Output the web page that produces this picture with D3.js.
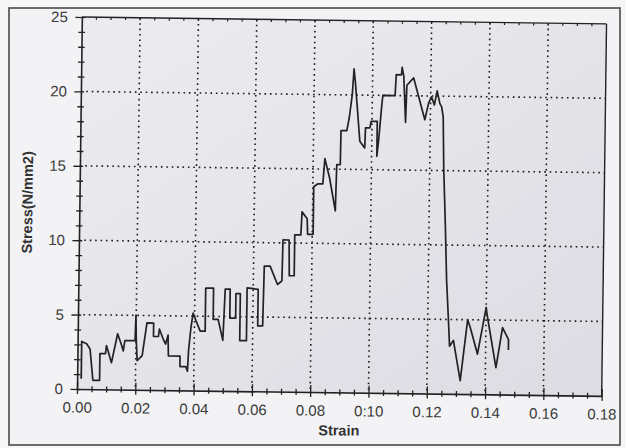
<!DOCTYPE html>
<html>
<head>
<meta charset="utf-8">
<script src="https://cdn.jsdelivr.net/npm/d3@7/dist/d3.min.js"></script>
<style>
  html, body { margin: 0; padding: 0; background: #f6f6f7; }
  svg { display: block; }
  text { font-family: "Liberation Sans", Arial, sans-serif; }
</style>
</head>
<body>
<svg id="chart" width="626" height="448"></svg>
<script>
// Stress–strain record of the tensile test
const strain = [
  0.0014, 0.0014, 0.0031, 0.0043, 0.0054, 0.0077, 0.0077, 0.0096, 0.0099, 0.0117,
  0.0137, 0.0149, 0.0157, 0.0162, 0.0197, 0.0199, 0.0201, 0.0205, 0.0222, 0.0237,
  0.0260, 0.0260, 0.0277, 0.0280, 0.0292, 0.0302, 0.0310, 0.0312, 0.0352, 0.0352,
  0.0372, 0.0378, 0.0381, 0.0388, 0.0395, 0.0405, 0.0420, 0.0437, 0.0437, 0.0464,
  0.0464, 0.0481, 0.0498, 0.0504, 0.0521, 0.0521, 0.0541, 0.0541, 0.0556, 0.0556,
  0.0579, 0.0579, 0.0600, 0.0617, 0.0617, 0.0634, 0.0637, 0.0657, 0.0683, 0.0698,
  0.0700, 0.0721, 0.0723, 0.0740, 0.0740, 0.0761, 0.0764, 0.0782, 0.0784, 0.0803,
  0.0803, 0.0817, 0.0834, 0.0840, 0.0857, 0.0878, 0.0881, 0.0893, 0.0894, 0.0914,
  0.0922, 0.0931, 0.0936, 0.0941, 0.0959, 0.0976, 0.0978, 0.0993, 0.0997, 0.1018,
  0.1018, 0.1024, 0.1033, 0.1036, 0.1078, 0.1081, 0.1099, 0.1101, 0.1107, 0.1115,
  0.1118, 0.1141, 0.1181, 0.1193, 0.1203, 0.1213, 0.1222, 0.1232, 0.1238, 0.1244,
  0.1248, 0.1256, 0.1263, 0.1270, 0.1276, 0.1289, 0.1314, 0.1337, 0.1346, 0.1372,
  0.1400, 0.1403, 0.1436, 0.1457, 0.1478, 0.1478
];
const stress = [
  0.7, 3.2, 3.05, 2.7, 0.6, 0.6, 2.4, 2.4, 2.95, 1.8,
  3.75, 3.1, 2.6, 3.3, 3.3, 5.0, 3.4, 1.95, 2.3, 4.5,
  4.5, 3.6, 3.6, 4.1, 3.5, 3.1, 3.7, 2.3, 2.3, 1.6,
  1.6, 1.3, 2.7, 4.2, 5.2, 4.7, 4.0, 4.0, 6.9, 6.9,
  4.8, 4.8, 3.4, 6.85, 6.85, 4.9, 4.9, 6.55, 6.55, 3.4,
  3.4, 6.95, 6.9, 6.85, 4.4, 4.4, 8.43, 8.43, 7.2, 7.45,
  10.2, 10.2, 7.8, 7.8, 10.55, 10.55, 12.1, 11.65, 10.6, 10.6,
  13.8, 14.0, 14.0, 15.7, 14.4, 12.2, 15.3, 15.3, 17.6, 17.6,
  18.5, 20.0, 21.75, 20.9, 16.9, 16.45, 17.8, 17.8, 18.25, 18.25,
  15.9, 17.1, 19.4, 20.0, 20.0, 21.4, 21.4, 21.9, 21.3, 18.2,
  20.7, 21.2, 18.4, 19.5, 19.95, 19.4, 20.35, 19.5, 19.3, 18.6,
  15.2, 11.4, 7.6, 5.3, 3.2, 3.6, 0.9, 5.0, 4.5, 2.7,
  5.85, 5.4, 1.8, 4.5, 3.7, 3.0
];

const xMajorTicks = [0, 0.02, 0.04, 0.06, 0.08, 0.10, 0.12, 0.14, 0.16, 0.18];
const xTickLabels = ["0.00", "0.02", "0.04", "0.06", "0.08", "0:10", "0.12", "0.14", "0.16", "0.18"];
const yMajorTicks = [0, 5, 10, 15, 20, 25];
const yTickLabels = ["0", "5", "10", "15", "20", "25"];
const xTitle = "Strain";
const yTitle = "Stress(N/mm2)";

const svg = d3.select("#chart");

// outer frame of the sheet
svg.append("rect")
  .attr("x", 9).attr("y", 8).attr("width", 611).attr("height", 437)
  .attr("fill", "#f3f3f5").attr("stroke", "#4a4a4a").attr("stroke-width", 1.6);

// plot frame, laid at a slight tilt
const ox = 77, oy = 389, W = 524.7, H = 372;
const g = svg.append("g").attr("transform", `rotate(0.75, ${ox}, ${oy}) translate(${ox}, ${oy - H})`);

const x = d3.scaleLinear().domain([0, 0.18]).range([0, W]);
const y = d3.scaleLinear().domain([0, 25]).range([H, 0]);

const defs = svg.append("defs");
const grad = defs.append("linearGradient").attr("id", "plotbg").attr("x1", 0).attr("y1", 0).attr("x2", 1).attr("y2", 1);
grad.append("stop").attr("offset", "0%").attr("stop-color", "#ececf0");
grad.append("stop").attr("offset", "100%").attr("stop-color", "#dcdce3");

g.append("rect").attr("width", W).attr("height", H).attr("fill", "url(#plotbg)");

// dotted grid
const dot = { stroke: "#1a1a1a", width: 1.6, dash: "1.6,3.8" };
g.append("g").selectAll("line").data(xMajorTicks.slice(1, -1)).join("line")
  .attr("x1", d => x(d)).attr("x2", d => x(d)).attr("y1", 0).attr("y2", H)
  .attr("stroke", dot.stroke).attr("stroke-width", dot.width).attr("stroke-dasharray", dot.dash);
g.append("g").selectAll("line").data(yMajorTicks.slice(1, -1)).join("line")
  .attr("x1", 0).attr("x2", W).attr("y1", d => y(d)).attr("y2", d => y(d))
  .attr("stroke", dot.stroke).attr("stroke-width", dot.width).attr("stroke-dasharray", dot.dash);

// top and right borders
g.append("line").attr("x1", 0).attr("x2", W).attr("y1", 0).attr("y2", 0).attr("stroke", "#222").attr("stroke-width", 1.4);
g.append("line").attr("x1", W).attr("x2", W).attr("y1", 0).attr("y2", H).attr("stroke", "#222").attr("stroke-width", 1.4);
g.append("g").selectAll("line").data(d3.range(0.005, 0.18, 0.005)).join("line")
  .attr("x1", d => x(d)).attr("x2", d => x(d)).attr("y1", 0).attr("y2", 2.5)
  .attr("stroke", "#222").attr("stroke-width", 1.2);

// x axis
const xMinor = d3.range(0, 0.1801, 0.005).filter(v => Math.abs(v / 0.02 - Math.round(v / 0.02)) > 1e-6);
const xAxisMinor = g.append("g").attr("transform", `translate(0,${H})`)
  .call(d3.axisBottom(x).tickValues(xMinor).tickFormat("").tickSize(3).tickSizeOuter(0));
xAxisMinor.selectAll(".tick line").attr("y1", -3).attr("y2", 3).attr("stroke", "#222").attr("stroke-width", 1.3);
xAxisMinor.select(".domain").attr("stroke", "#222").attr("stroke-width", 1.6);

const xAxis = g.append("g").attr("transform", `translate(0,${H})`)
  .call(d3.axisBottom(x).tickValues(xMajorTicks).tickFormat((d, i) => xTickLabels[i]).tickSize(5).tickSizeOuter(0).tickPadding(8));
xAxis.select(".domain").remove();
xAxis.selectAll(".tick line").attr("y1", -7).attr("y2", 5).attr("stroke", "#222").attr("stroke-width", 1.3);
xAxis.selectAll(".tick text").attr("font-size", 15).attr("fill", "#3a3a3a")
  .attr("font-family", "'Liberation Sans', Arial, sans-serif");

// y axis
const yMinor = d3.range(0, 25.01, 1).filter(v => v % 5 !== 0);
const yAxisMinor = g.append("g")
  .call(d3.axisLeft(y).tickValues(yMinor).tickFormat("").tickSize(3).tickSizeOuter(0));
yAxisMinor.selectAll(".tick line").attr("x1", -3.3).attr("x2", 3.3).attr("stroke", "#222").attr("stroke-width", 1.3);
yAxisMinor.select(".domain").attr("stroke", "#222").attr("stroke-width", 1.6);

const yAxis = g.append("g")
  .call(d3.axisLeft(y).tickValues(yMajorTicks).tickFormat((d, i) => yTickLabels[i]).tickSize(6).tickSizeOuter(0).tickPadding(8));
yAxis.select(".domain").remove();
yAxis.selectAll(".tick line").attr("x1", -6.5).attr("x2", 3.3).attr("stroke", "#222").attr("stroke-width", 1.3);
yAxis.selectAll(".tick text").attr("font-size", 15).attr("fill", "#3a3a3a")
  .attr("font-family", "'Liberation Sans', Arial, sans-serif");

// stress–strain trace
const pts = strain.map((s, i) => [s, stress[i]]);
g.append("path").datum(pts)
  .attr("fill", "none").attr("stroke", "#222").attr("stroke-width", 1.7).attr("stroke-linejoin", "round")
  .attr("d", d3.line().x(d => x(d[0])).y(d => y(d[1])));

// axis titles
g.append("text").attr("x", W / 2).attr("y", H + 43).attr("text-anchor", "middle")
  .attr("font-size", 14.5).attr("font-weight", "bold").attr("fill", "#333").text(xTitle);
g.append("text").attr("transform", `translate(-47,${H / 2}) rotate(-90)`).attr("text-anchor", "middle")
  .attr("font-size", 14.5).attr("font-weight", "bold").attr("fill", "#333").text(yTitle);
</script>
</body>
</html>
